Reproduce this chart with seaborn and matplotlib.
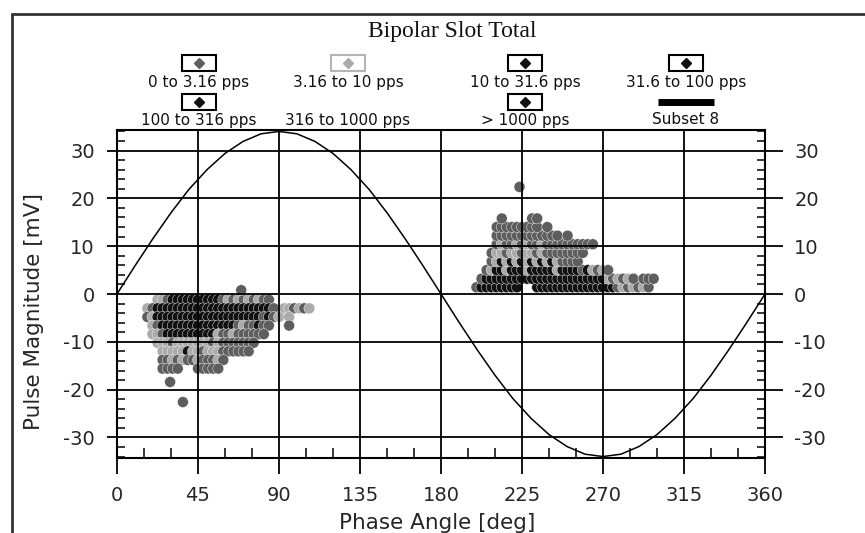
import numpy as np
import pandas as pd
import matplotlib
matplotlib.use("Agg")
import matplotlib.pyplot as plt
import seaborn as sns
from matplotlib.patches import Rectangle
from matplotlib.lines import Line2D
from matplotlib.ticker import MultipleLocator

# ---------------- data ----------------
TITLE = "Bipolar Slot Total"
X_LABEL = "Phase Angle [deg]"
Y_LABEL = "Pulse Magnitude [mV]"
CATEGORIES = ["0 to 3.16 pps", "3.16 to 10 pps", "10 to 31.6 pps", "31.6 to 100 pps",
              "100 to 316 pps", "316 to 1000 pps", "> 1000 pps"]
CURVE_LABEL = "Subset 8"
CAT_COLORS = ["#5e5e5e", "#ababab", "#111111", "#111111", "#111111", "#ffffff", "#111111"]
CODE_TO_CAT = {"a": CATEGORIES[0], "b": CATEGORIES[1], "c": CATEGORIES[2], "d": CATEGORIES[3]}

X_TICKS = [0, 45, 90, 135, 180, 225, 270, 315, 360]
Y_TICKS = [-30, -20, -10, 0, 10, 20, 30]

PHASE_BIN = 2.8125  # width of one phase window [deg]

# negative half-cycle cluster: one string per magnitude row, one char per phase window
NEG_START = 16.875
NEG_ROWS_MV = [-1.2, -3.0, -4.8, -6.6, -8.4, -10.2, -12.0, -13.8, -15.6]
NEG_ROWS = [
    "..bbaccccccccccababababaa........",
    "baccccccccccccccccccccccca.bbabab",
    "abcccccccccccccccccccccacab.b....",
    ".bacccccccccccccccabaacaa...a....",
    ".bbaccccccccccbaabaaaaaa.........",
    "..bbbabbbbbbbabaaaaaaa...........",
    "...bbbbbcbbabbbaaaaaa............",
    "...aababaabaaaba.................",
    "...aaaa...aaaaa..................",
]

# positive half-cycle cluster
POS_START = 199.6875
POS_ROWS_MV = [1.4, 3.2, 5.0, 6.8, 8.6, 10.4, 12.2, 14.0, 15.8]
POS_ROWS = [
    "acccccccc...ccccccccccccccccabababa.",
    ".accccccccccccccccccccccccbababa.aaa",
    "..abccbcccbcccccbccccacbaba........",
    "...abcbcbcbcbcbcbaaaa..............",
    "...abbabbabbabaaaaaaaa.............",
    "....abaababaabaaaaaaaaaa...........",
    "....aaaaaaaaaaaaa.a................",
    "....aaaaaaaaa.a....................",
    ".....a.....aa......................",
]

# isolated pulses
OUTLIER_PHASE = [29.5, 36.6, 69.0, 223.6]
OUTLIER_MV = [-18.4, -22.6, 0.8, 22.4]
OUTLIER_CODE = ["a", "a", "a", "a"]

# Subset 8: applied voltage reference trace
SUBSET8_PHASE = [0, 10, 20, 30, 40, 50, 60, 70, 80, 90, 100, 110, 120, 130, 140, 150, 160, 170,
                 180, 190, 200, 210, 220, 230, 240, 250, 260, 270, 280, 290, 300, 310, 320, 330,
                 340, 350, 360]
SUBSET8_MV = [0.0, 5.9, 11.6, 17.0, 21.9, 26.0, 29.4, 31.9, 33.5, 34.0, 33.5, 31.9, 29.4, 26.0,
              21.9, 17.0, 11.6, 5.9, 0.0, -5.9, -11.6, -17.0, -21.9, -26.0, -29.4, -31.9, -33.5,
              -34.0, -33.5, -31.9, -29.4, -26.0, -21.9, -17.0, -11.6, -5.9, 0.0]


def grid_records(start, rows_mv, rows):
    recs = []
    for mv, pat in zip(rows_mv, rows):
        for i, ch in enumerate(pat):
            if ch != ".":
                recs.append((start + i * PHASE_BIN, mv, CODE_TO_CAT[ch]))
    return recs


records = grid_records(NEG_START, NEG_ROWS_MV, NEG_ROWS) + grid_records(POS_START, POS_ROWS_MV, POS_ROWS)
records += [(p, m, CODE_TO_CAT[c]) for p, m, c in zip(OUTLIER_PHASE, OUTLIER_MV, OUTLIER_CODE)]
df = pd.DataFrame(records, columns=["phase", "mv", "rate"])
curve = pd.DataFrame({"phase": SUBSET8_PHASE, "mv": SUBSET8_MV})

# ---------------- drawing ----------------
sns.set_theme(style="white")
plt.rcParams["font.family"] = ["DejaVu Sans"]
plt.rcParams["axes.unicode_minus"] = False

W, H = 865, 533
fig = plt.figure(figsize=(W / 100, H / 100), dpi=100)
fig.patch.set_facecolor("white")
ax = fig.add_axes([117 / W, 1 - 458 / H, 648 / W, 328 / H])

palette = dict(zip(CATEGORIES, CAT_COLORS))
sns.scatterplot(data=df, x="phase", y="mv", hue="rate", palette=palette,
                hue_order=[c for c in CATEGORIES if c in set(df["rate"])],
                s=62, marker="o", edgecolor="white", linewidth=0.3,
                legend=False, ax=ax, zorder=2)
sns.lineplot(data=curve, x="phase", y="mv", color="black", linewidth=1.1,
             ax=ax, zorder=4, estimator=None)

ax.set_xlim(0, 360)
ax.set_ylim(-34.3, 34.3)
ax.set_xticks(X_TICKS)
ax.set_yticks(Y_TICKS)
ax.xaxis.set_minor_locator(MultipleLocator(15))
ax.yaxis.set_minor_locator(MultipleLocator(2))
ax.set_axisbelow(False)
ax.grid(True, which="major", color="black", linewidth=1.3)

for sp in ax.spines.values():
    sp.set_color("black")
    sp.set_linewidth(1.5)

ax.tick_params(axis="x", which="major", direction="out", length=11.5, width=1.3,
               color="black", labelsize=14, pad=9, top=False, bottom=True)
ax.tick_params(axis="x", which="minor", direction="in", length=7, width=1.1,
               color="black", top=False, bottom=True)
ax.tick_params(axis="y", which="major", direction="out", length=7, width=1.3,
               color="black", labelsize=14, pad=9, left=True, right=False)
ax.tick_params(axis="y", which="minor", direction="in", length=6, width=1.1,
               color="black", left=True, right=False)

ax2 = ax.twinx()
ax2.set_ylim(ax.get_ylim())
ax2.set_yticks(Y_TICKS)
ax2.yaxis.set_minor_locator(MultipleLocator(2))
ax2.tick_params(axis="y", which="major", direction="out", length=13, width=1.3,
                color="black", labelsize=14, pad=8)
ax2.tick_params(axis="y", which="minor", direction="in", length=6, width=1.1, color="black")
for sp in ax2.spines.values():
    sp.set_visible(False)
ax2.grid(False)

ax.set_xlabel(X_LABEL, fontsize=15.5)
ax.set_ylabel(Y_LABEL, fontsize=15.5)
ax.xaxis.label.set_va("baseline")
ax.xaxis.set_label_coords((437 - 117) / 648, (458 - 529) / 328)
ax.yaxis.set_label_coords((44 - 117) / 648, (458 - 312) / 328)

# title
fig.text(452 / W, 1 - 31 / H, TITLE, ha="center", va="center", fontsize=17,
         family="Liberation Serif", color="#111111")

# legend (stacked: symbol box above label)
col_x = [199, 348, 525, 686]
row_box_y = [63, 102]
row_lab_y = [82, 120]
box_w, box_h = 34, 15
for k, label in enumerate(CATEGORIES + [CURVE_LABEL]):
    r, c = divmod(k, 4)
    cx = col_x[c] / W
    by = 1 - row_box_y[r] / H
    fig.text(cx, 1 - row_lab_y[r] / H, label, ha="center", va="center", fontsize=11,
             color="#111111")
    if label == CURVE_LABEL:
        fig.add_artist(Line2D([cx - 28 / W, cx + 28 / W], [by, by], transform=fig.transFigure,
                              color="black", linewidth=5, solid_capstyle="butt"))
        continue
    if label == CATEGORIES[5]:
        continue
    edge = "#b5b5b5" if label == CATEGORIES[1] else "black"
    fig.add_artist(Rectangle((cx - box_w / 2 / W, by - box_h / 2 / H), box_w / W, box_h / H,
                             transform=fig.transFigure, facecolor="white", edgecolor=edge,
                             linewidth=1.5))
    fig.add_artist(Line2D([cx], [by], transform=fig.transFigure, marker="D",
                          markersize=5, color=CAT_COLORS[k], linestyle="none"))

# outer frame of the scanned page
fig.add_artist(Line2D([12 / W, 12 / W], [0, 1 - 14 / H], transform=fig.transFigure,
                      color="#333333", linewidth=2))
fig.add_artist(Line2D([12 / W, 1], [1 - 14 / H, 1 - 14 / H], transform=fig.transFigure,
                      color="#333333", linewidth=2))

fig.savefig("out.png", dpi=100, facecolor="white")
